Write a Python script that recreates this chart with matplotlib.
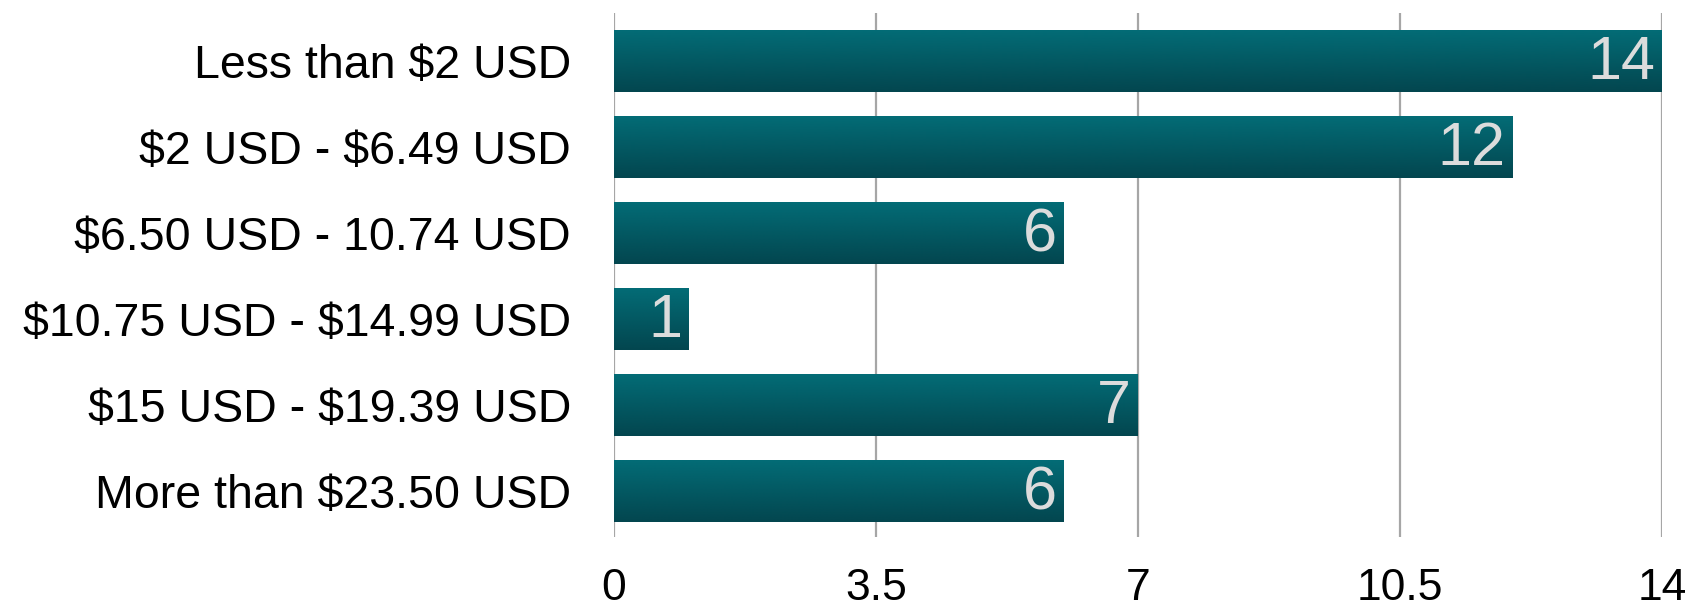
import numpy as np
import matplotlib
matplotlib.use("Agg")
import matplotlib.pyplot as plt
from matplotlib.colors import LinearSegmentedColormap

categories = ["Less than $2 USD", "$2 USD - $6.49 USD", "$6.50 USD - 10.74 USD",
              "$10.75 USD - $14.99 USD", "$15 USD - $19.39 USD", "More than $23.50 USD"]
values = [14, 12, 6, 1, 7, 6]
xticks = [0, 3.5, 7, 10.5, 14]
xtick_labels = ["0", "3.5", "7", "10.5", "14"]

plt.rcParams['font.family'] = ['Liberation Sans', 'DejaVu Sans']
plt.rcParams['text.parse_math'] = False

W, H, DPI = 1694, 610, 100
fig = plt.figure(figsize=(W / DPI, H / DPI), dpi=DPI)
ax = fig.add_axes([614 / W, 1 - 537 / H, (1662 - 614) / W, (537 - 13) / H])

cmap = LinearSegmentedColormap.from_list("bar", ["#036c76", "#03464f"])
grad = np.linspace(0, 1, 256).reshape(-1, 1)
h = 0.72
for i, v in enumerate(values):
    ax.imshow(grad, extent=(0, v, i + h / 2, i - h / 2), aspect='auto', cmap=cmap,
              origin='upper', zorder=2, interpolation='bilinear')
    ax.text(v - 0.09, i + 0.03, str(v), ha='right', va='center', fontsize=44,
            color='#dcdcdc', zorder=3)

for x in xticks:
    ax.axvline(x, color='#a6a6a6', lw=1.6, zorder=1)

ax.set_xlim(0, 14)
ax.set_ylim(5.535, -0.558)
ax.set_yticks(range(len(categories)))
ax.set_yticklabels(categories, fontsize=33.5)
ax.set_xticks(xticks)
ax.set_xticklabels(xtick_labels, fontsize=32)
ax.tick_params(axis='both', length=0)
ax.tick_params(axis='y', pad=31)
ax.tick_params(axis='x', pad=22)
for s in ax.spines.values():
    s.set_visible(False)

fig.savefig("out.png", dpi=DPI)
